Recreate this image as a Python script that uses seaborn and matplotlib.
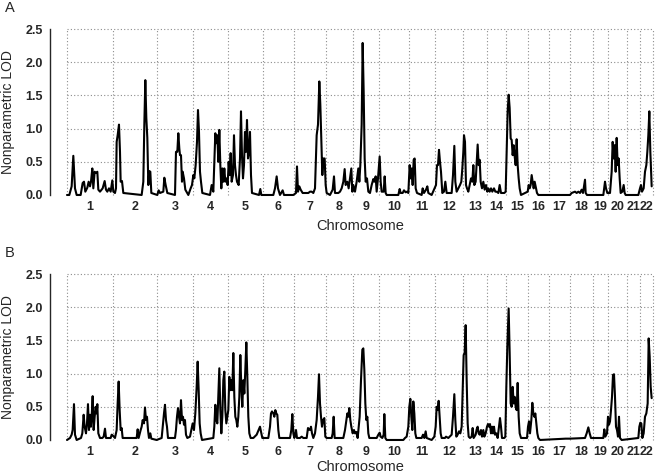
import numpy as np
import pandas as pd
import matplotlib
matplotlib.use("Agg")
import matplotlib.pyplot as plt
import seaborn as sns

# chromosome lengths (cM)
chrom_names = [str(i) for i in range(1, 23)]
chrom_len = [276, 264, 216, 210, 210, 186, 192, 162, 156, 180, 156,
             168, 144, 114, 132, 126, 126, 138, 90, 114, 78, 78]

# genome-wide scan A: (position cM, LOD)
scan_a = [
    # 1
    (0, 0), (14, 0), (28, 0.13), (38, 0.59), (48, 0.10), (58, 0), (82, 0), (94, 0.18), (102, 0.20),
    (110, 0.05), (122, 0.11), (130, 0.20), (138, 0.13), (144, 0.20), (152, 0.40), (158, 0.10),
    (166, 0.35), (174, 0.33), (182, 0.35), (188, 0.08), (198, 0.05), (214, 0.10), (226, 0.21),
    (234, 0.08), (242, 0.05), (252, 0.10), (262, 0.05), (272, 0.22), (278, 0.05),
    # 2
    (288, 0.03), (294, 0.10), (298, 0.80), (304, 0.90), (312, 1.06), (318, 0.65), (322, 0.20),
    (330, 0.21), (338, 0.03), (448, 0), (458, 0.20), (464, 1.06), (470, 1.73), (476, 1.16),
    (482, 0.86), (488, 0.15), (494, 0.36), (500, 0.35), (506, 0.03), (542, 0), (550, 0.07),
    # 3
    (558, 0.03), (578, 0.05), (584, 0.26), (592, 0.15), (602, 0.03), (648, 0), (654, 0.65),
    (662, 0.65), (668, 0.93), (674, 0.70), (678, 0.60), (684, 0.60), (690, 0.20), (694, 0.35),
    (702, 0.25), (710, 0.08), (728, 0), (742, 0.10), (750, 0.15), (758, 0.30),
    # 4
    (764, 0.25), (772, 0.45), (780, 0.80), (786, 1.28), (792, 0.95), (798, 0.35), (804, 0.20),
    (812, 0.03), (858, 0), (868, 0.15), (878, 0.05), (890, 0.93), (896, 0.78), (902, 0.90),
    (908, 0.50), (914, 0.98), (920, 0.45), (926, 0.10), (932, 0.40), (938, 0.20), (944, 0.40),
    (950, 0.20), (958, 0.25), (964, 0.15),
    # 5
    (970, 0.50), (976, 0.30), (982, 0.63), (988, 0.20), (996, 0.30), (1002, 0.90), (1008, 0.45),
    (1014, 0.30), (1020, 0.20), (1030, 0.15), (1038, 0.55), (1044, 1.26), (1050, 0.60),
    (1056, 0.25), (1062, 0.45), (1068, 0.95), (1074, 0.65), (1080, 1.13), (1086, 0.55),
    (1092, 0.65), (1098, 0.95), (1104, 0.30), (1110, 0.03), (1152, 0), (1160, 0.09), (1166, 0),
    # 6
    (1238, 0), (1248, 0.10), (1258, 0.28), (1266, 0.10), (1278, 0), (1294, 0.07), (1302, 0),
    (1358, 0),
    # 7
    (1374, 0.03), (1380, 0.43), (1386, 0.05), (1394, 0.13), (1402, 0.08), (1414, 0.03),
    (1448, 0.03), (1458, 0.05), (1468, 0.05), (1478, 0.03), (1488, 0.10), (1498, 0.90),
    (1506, 1.06), (1514, 1.71), (1520, 1.36), (1526, 0.85), (1532, 0.30), (1538, 0.55),
    (1546, 0.55), (1552, 0.15),
    # 8
    (1558, 0.03), (1578, 0), (1594, 0.08), (1602, 0.28), (1608, 0.03), (1628, 0.03), (1638, 0.05),
    (1648, 0.10), (1658, 0.20), (1666, 0.39), (1672, 0.15), (1682, 0.20), (1690, 0.10),
    (1698, 0.25), (1706, 0.40), (1712, 0.05), (1718, 0.15),
    # 9
    (1728, 0.05), (1738, 0.20), (1748, 0.40), (1754, 0.20), (1760, 0.45), (1768, 1.06),
    (1774, 2.29), (1780, 1.56), (1786, 0.55), (1792, 0.20), (1800, 0.25), (1808, 0.05),
    (1818, 0.03), (1828, 0.15), (1838, 0.24), (1844, 0.20), (1852, 0.28), (1858, 0.05),
    (1866, 0.25), (1876, 0.58), (1882, 0.20), (1888, 0.05), (1900, 0.05), (1906, 0.28), (1912, 0.03),
    # 10
    (1918, 0), (1988, 0), (1996, 0.09), (2002, 0.03), (2014, 0.03), (2022, 0.07), (2032, 0.04),
    (2040, 0.05), (2048, 0.03),
    # 11
    (2056, 0.45), (2062, 0.25), (2068, 0.40), (2074, 0.15), (2080, 0.53), (2086, 0.55),
    (2092, 0.10), (2100, 0.03), (2128, 0), (2134, 0.10), (2142, 0.03), (2154, 0.08), (2162, 0.13),
    (2168, 0.03), (2188, 0),
    # 12
    (2214, 0.15), (2220, 0.45), (2226, 0.45), (2232, 0.68), (2238, 0.50), (2244, 0.35),
    (2252, 0.03), (2262, 0.05), (2270, 0.20), (2278, 0.03), (2308, 0.03), (2316, 0.30),
    (2324, 0.74), (2330, 0.20), (2338, 0.05), (2348, 0.10), (2358, 0.15), (2366, 0.20),
    (2372, 0.40), (2378, 0.65),
    # 13
    (2382, 0.90), (2388, 0.80), (2394, 0.15), (2400, 0.10), (2408, 0.05), (2416, 0.15),
    (2424, 0.25), (2432, 0.20), (2438, 0.45), (2444, 0.15), (2452, 0.20), (2458, 0.48),
    (2464, 0.76), (2470, 0.45), (2476, 0.53), (2482, 0.20), (2490, 0.10), (2498, 0.20),
    (2506, 0.08), (2514, 0.15),
    # 14
    (2522, 0.05), (2528, 0.10), (2536, 0.05), (2544, 0.10), (2552, 0.05), (2562, 0.10),
    (2570, 0.05), (2578, 0.05), (2588, 0.03), (2596, 0.15), (2604, 0.03), (2624, 0.03),
    # 15
    (2632, 0.05), (2638, 0.65), (2644, 1.26), (2650, 1.51), (2656, 1.31), (2662, 0.85),
    (2668, 0.83), (2674, 0.60), (2680, 0.75), (2686, 0.58), (2692, 0.45), (2698, 0.84),
    (2704, 0.45), (2710, 0.25), (2716, 0.10), (2724, 0),
    # 16
    (2764, 0.05), (2770, 0.15), (2776, 0.10), (2782, 0.15), (2788, 0.30), (2794, 0.20),
    (2800, 0.10), (2806, 0.20), (2814, 0.10), (2820, 0.03), (2828, 0),
    # 17 - 18
    (3018, 0), (3028, 0.03), (3048, 0.05), (3058, 0.03), (3068, 0.05), (3078, 0.03), (3088, 0.08),
    (3096, 0.03), (3108, 0.23), (3112, 0.03), (3120, 0),
    # 19 - 20
    (3218, 0), (3228, 0.20), (3234, 0.10), (3242, 0.03), (3258, 0.03), (3268, 0.35), (3274, 0.80),
    (3280, 0.55), (3286, 0.75), (3292, 0.35), (3298, 0.86), (3304, 0.45), (3310, 0.55),
    (3316, 0.25), (3322, 0.03), (3332, 0.05), (3340, 0.15), (3346, 0.03), (3352, 0),
    # 21 - 22
    (3428, 0), (3438, 0.10), (3444, 0.15), (3450, 0.05), (3460, 0.10), (3468, 0.35), (3476, 0.45),
    (3482, 0.65), (3488, 0.90), (3494, 1.26), (3500, 0.65), (3508, 0.13),
]

# genome-wide scan B
scan_b = [
    # 1
    (0, 0), (18, 0.03), (28, 0.08), (34, 0.15), (42, 0.54), (48, 0.08), (58, 0), (84, 0.03),
    (92, 0.10), (100, 0.38), (106, 0.20), (114, 0.10), (120, 0.25), (126, 0.54), (132, 0.15),
    (138, 0.38), (144, 0.20), (148, 0.35), (154, 0.66), (160, 0.15), (166, 0.35), (172, 0.50),
    (178, 0.40), (182, 0.54), (188, 0.10), (198, 0.03), (212, 0.03), (220, 0.05), (228, 0.17),
    (234, 0.03), (262, 0.03), (268, 0.08), (274, 0.07),
    # 2
    (288, 0.03), (298, 0.15), (304, 0.55), (310, 0.88), (316, 0.45), (322, 0.15), (328, 0.18),
    (334, 0.03), (418, 0.03), (424, 0.16), (430, 0.03), (442, 0.15), (448, 0.20), (454, 0.30),
    (462, 0.25), (468, 0.49), (474, 0.30), (480, 0.35), (486, 0.15), (492, 0.03), (500, 0.10),
    (506, 0.02), (538, 0),
    # 3
    (568, 0.03), (576, 0.25), (582, 0.40), (588, 0.53), (594, 0.30), (600, 0.20), (606, 0.03),
    (648, 0.03), (654, 0.15), (660, 0.35), (666, 0.48), (672, 0.35), (678, 0.25), (684, 0.60),
    (690, 0.30), (696, 0.35), (702, 0.23), (708, 0.30), (714, 0.08), (722, 0.03), (738, 0.05),
    (746, 0.15), (754, 0.25),
    # 4
    (762, 0.15), (770, 0.40), (778, 0.80), (784, 1.18), (790, 0.76), (796, 0.25), (802, 0.10),
    (810, 0), (878, 0.03), (884, 0.20), (890, 0.53), (896, 0.30), (902, 0.25), (908, 0.65),
    (914, 1.08), (920, 0.45), (926, 0.10), (932, 0.35), (938, 0.90), (944, 1.03), (950, 0.45),
    (956, 0.25), (962, 0.35),
    # 5
    (968, 0.45), (974, 0.95), (980, 0.75), (986, 0.90), (992, 0.75), (998, 1.31), (1004, 0.65),
    (1010, 0.35), (1016, 0.30), (1022, 0.20), (1028, 0.35), (1034, 0.65), (1040, 1.28),
    (1046, 0.80), (1052, 0.50), (1058, 0.90), (1064, 0.70), (1070, 1.06), (1076, 1.47),
    (1082, 0.95), (1088, 0.35), (1094, 0.10), (1102, 0.03), (1118, 0.03), (1138, 0.08),
    (1150, 0.15), (1158, 0.20), (1166, 0.10), (1172, 0.03),
    # 6
    (1178, 0.03), (1208, 0.03), (1218, 0.20), (1224, 0.40), (1230, 0.43), (1238, 0.40),
    (1244, 0.35), (1250, 0.45), (1256, 0.40), (1262, 0.38), (1268, 0.15), (1274, 0.03),
    (1338, 0.03), (1346, 0.15), (1352, 0.39), (1358, 0.10),
    # 7
    (1364, 0.03), (1374, 0.15), (1380, 0.03), (1398, 0.03), (1408, 0.05), (1418, 0.03),
    (1438, 0.03), (1446, 0.18), (1452, 0.16), (1458, 0.15), (1464, 0.20), (1470, 0.10),
    (1478, 0.03), (1488, 0.10), (1498, 0.30), (1506, 0.65), (1512, 0.99), (1518, 0.55),
    (1524, 0.35), (1530, 0.20), (1536, 0.30), (1544, 0.33), (1550, 0.05),
    # 8
    (1558, 0.03), (1588, 0.03), (1594, 0.10), (1600, 0.35), (1606, 0.03), (1658, 0.03),
    (1668, 0.15), (1682, 0.40), (1688, 0.35), (1694, 0.48), (1700, 0.30), (1706, 0.20),
    (1714, 0.10), (1722, 0.15),
    # 9
    (1728, 0.10), (1736, 0.12), (1744, 0.03), (1756, 0.35), (1764, 0.90), (1772, 1.36),
    (1778, 1.38), (1784, 1.06), (1790, 0.55), (1796, 0.30), (1802, 0.35), (1808, 0.10),
    (1814, 0.03), (1858, 0.03), (1868, 0.08), (1876, 0.11), (1882, 0.05), (1892, 0.03),
    (1900, 0.08), (1904, 0.39), (1910, 0.03),
    # 10
    (1918, 0), (2018, 0), (2028, 0.03), (2038, 0.05),
    # 11
    (2048, 0.20), (2054, 0.50), (2060, 0.62), (2066, 0.35), (2072, 0.15), (2078, 0.58),
    (2084, 0.40), (2090, 0.10), (2096, 0.03), (2128, 0.03), (2136, 0.08), (2144, 0.03),
    (2152, 0.13), (2158, 0.03), (2188, 0),
    # 12
    (2204, 0.05), (2212, 0.20), (2218, 0.50), (2224, 0.45), (2230, 0.59), (2236, 0.35),
    (2242, 0.10), (2248, 0.03), (2268, 0.03), (2274, 0.05), (2288, 0.03), (2308, 0.08),
    (2316, 0.35), (2324, 0.69), (2330, 0.30), (2336, 0.05), (2344, 0.08), (2352, 0.13),
    (2360, 0.10), (2368, 0.20), (2374, 0.75),
    # 13
    (2380, 1.28), (2386, 1.31), (2392, 1.73), (2398, 0.90), (2404, 0.25), (2410, 0.05),
    (2418, 0.03), (2428, 0.05), (2434, 0.18), (2440, 0.03), (2452, 0.08), (2458, 0.16),
    (2464, 0.20), (2470, 0.10), (2476, 0.08), (2484, 0.15), (2490, 0.05), (2498, 0.15),
    (2504, 0.05), (2512, 0.10), (2520, 0.20),
    # 14
    (2526, 0.24), (2532, 0.20), (2538, 0.24), (2544, 0.10), (2550, 0.20), (2556, 0.10),
    (2562, 0.20), (2568, 0.08), (2576, 0.10), (2584, 0.03), (2592, 0.20), (2598, 0.33),
    (2604, 0.20), (2610, 0.03), (2624, 0.03),
    # 15
    (2630, 0.05), (2636, 0.80), (2642, 1.41), (2650, 1.98), (2656, 1.31), (2662, 0.55),
    (2668, 0.50), (2674, 0.80), (2680, 0.55), (2686, 0.65), (2692, 0.50), (2698, 0.45),
    (2704, 0.86), (2710, 0.35), (2716, 0.10), (2724, 0.03),
    # 16
    (2760, 0.03), (2766, 0.20), (2772, 0.28), (2778, 0.10), (2786, 0.30), (2792, 0.56),
    (2798, 0.40), (2804, 0.35), (2810, 0.40), (2816, 0.25), (2822, 0.10), (2828, 0.03),
    # 17 - 18
    (2838, 0), (2992, 0.02), (3018, 0.02), (3108, 0.03), (3118, 0.10), (3128, 0.19),
    (3136, 0.10), (3144, 0.03),
    # 19 - 20
    (3218, 0.03), (3224, 0.16), (3230, 0.05), (3240, 0.10), (3246, 0.35), (3252, 0.23),
    (3258, 0.28), (3264, 0.45), (3270, 0.65), (3276, 0.98), (3282, 0.99), (3288, 0.65),
    (3294, 0.20), (3300, 0.15), (3306, 0.05), (3312, 0.35), (3318, 0.03), (3328, 0),
    # 21 - 22
    (3428, 0.03), (3434, 0.20), (3440, 0.26), (3446, 0.25), (3452, 0.03), (3460, 0.10),
    (3468, 0.35), (3476, 0.40), (3484, 0.55), (3490, 1.53), (3496, 1.26), (3502, 0.80),
    (3508, 0.63),
]

sns.set_style("white")
plt.rcParams['font.family'] = ['Liberation Sans', 'DejaVu Sans']

bounds = np.concatenate([[0], np.cumsum(chrom_len)])
centers = (bounds[:-1] + bounds[1:]) / 2
total = bounds[-1]

fig = plt.figure(figsize=(6.56, 4.76), dpi=100)
ax_a = fig.add_axes([0.0762, 0.5834, 0.9238, 0.3626])
ax_b = fig.add_axes([0.0762, 0.0687, 0.9238, 0.3626])

for ax, scan, xlab_y in [(ax_a, scan_a, -0.163), (ax_b, scan_b, -0.14)]:
    df = pd.DataFrame(scan, columns=["pos", "lod"])
    # grid: dotted lines at chromosome boundaries and LOD steps
    ax.vlines(bounds, 0, 2.5, colors="#8c8c8c", linestyles=(0, (1, 2)), lw=0.8, zorder=1)
    ax.hlines([0.5, 1.0, 1.5, 2.0, 2.5], 0, total, colors="#8c8c8c",
              linestyles=(0, (1, 2)), lw=0.8, zorder=1)
    sns.lineplot(data=df, x="pos", y="lod", ax=ax, color="black", lw=1.5,
                 estimator=None, sort=False, zorder=3)
    ax.set_xlim(-102, 3534)
    ax.set_ylim(-0.05, 2.55)
    for s in ["top", "right", "bottom"]:
        ax.spines[s].set_visible(False)
    ax.spines["left"].set_bounds(0, 2.5)
    ax.spines["left"].set_linewidth(1.0)
    ax.set_yticks([0, 0.5, 1.0, 1.5, 2.0, 2.5])
    ax.set_yticklabels(["0.0", "0.5", "1.0", "1.5", "2.0", "2.5"], fontweight="bold", fontsize=9)
    ax.tick_params(axis="y", length=3.5, width=1.0, pad=1.5)
    ax.set_xticks(centers)
    ax.set_xticklabels(chrom_names, fontweight="bold", fontsize=9)
    ax.tick_params(axis="x", length=0, pad=2)
    ax.set_xlabel("Chromosome", fontsize=10.5)
    ax.xaxis.set_label_coords(0.512, xlab_y)
    ax.xaxis.label.set_va("center")
    ax.set_ylabel("Nonparametric LOD", fontsize=10)
    ax.yaxis.set_label_coords(-0.069, 0.5)
    ax.yaxis.label.set_va("center")

fig.text(5 / 656, 1 - 8 / 476, "A", fontsize=10.5, va="center", ha="left")
fig.text(5 / 656, 1 - 253 / 476, "B", fontsize=10.5, va="center", ha="left")

fig.savefig("out.png", dpi=100)
